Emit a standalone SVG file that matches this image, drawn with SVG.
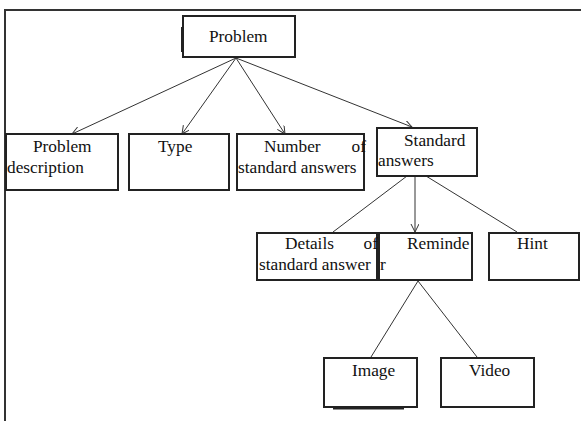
<svg xmlns="http://www.w3.org/2000/svg" width="581" height="421" viewBox="0 0 581 421">
<style>
.box{fill:#fff;stroke:#222;stroke-width:2}
.t{font-family:"Liberation Serif","Times New Roman",serif;font-size:17.3px;fill:#111}
.c{stroke:#333;stroke-width:1;fill:none;marker-end:url(#ah)}
.frame{stroke:#333;stroke-width:2;fill:none}
</style>
<defs>
<marker id="ah" markerUnits="userSpaceOnUse" markerWidth="10" markerHeight="10" refX="8" refY="4" orient="auto">
<path d="M0,0 L8,4 L0,8" fill="none" stroke="#333" stroke-width="1"/>
</marker>
</defs>
<rect width="581" height="421" fill="#fff"/>
<path class="frame" d="M5,421 V10 H581"/>
<g id="connectors">
<line class="c" x1="236" y1="58" x2="72" y2="134"/>
<line class="c" x1="236" y1="58" x2="182" y2="134"/>
<line class="c" x1="236" y1="58" x2="285" y2="134"/>
<line class="c" x1="236" y1="58" x2="412" y2="127"/>
<line class="c" x1="407" y1="176" x2="333" y2="232" style="marker-end:none"/>
<line class="c" x1="415" y1="176" x2="415" y2="232"/>
<line class="c" x1="426" y1="176" x2="517" y2="232" style="marker-end:none"/>
<line class="c" x1="418" y1="281" x2="371" y2="357" style="marker-end:none"/>
<line class="c" x1="418" y1="281" x2="477" y2="357" style="marker-end:none"/>
</g>
<g id="problem">
<rect class="box" x="183" y="16" width="112" height="41"/>
<line x1="182.5" y1="27" x2="182.5" y2="52" stroke="#222" stroke-width="3"/>
<text class="t" x="209" y="42">Problem</text>
</g>
<g id="problem-description">
<rect class="box" x="6" y="134" width="112" height="56"/>
<text class="t" x="33" y="152">Problem</text>
<text class="t" x="7" y="173">description</text>
</g>
<g id="type">
<rect class="box" x="129" y="134" width="100" height="56"/>
<text class="t" x="158" y="152">Type</text>
</g>
<g id="number">
<rect class="box" x="237" y="134" width="127" height="56"/>
<text class="t" x="264" y="152">Number</text>
<text class="t" x="366" y="152" text-anchor="end">of</text>
<text class="t" x="238" y="173">standard answers</text>
</g>
<g id="standard-answers">
<rect class="box" x="377" y="128" width="100" height="48"/>
<text class="t" x="404" y="146">Standard</text>
<text class="t" x="378" y="166">answers</text>
</g>
<g id="details">
<rect class="box" x="257" y="233" width="120" height="47"/>
<text class="t" x="285" y="249">Details</text>
<text class="t" x="378" y="249" text-anchor="end">of</text>
<text class="t" x="259" y="270">standard answer</text>
</g>
<g id="reminder">
<rect class="box" x="379" y="233" width="93" height="47"/>
<text class="t" x="407" y="249">Reminde</text>
<text class="t" x="380" y="270">r</text>
</g>
<g id="hint">
<rect class="box" x="489" y="233" width="90" height="47"/>
<text class="t" x="517" y="249">Hint</text>
</g>
<g id="image">
<rect class="box" x="324" y="358" width="93" height="49"/>
<line x1="333" y1="408" x2="404" y2="408" stroke="#222" stroke-width="3"/>
<text class="t" x="352" y="376">Image</text>
</g>
<g id="video">
<rect class="box" x="441" y="358" width="93" height="49"/>
<text class="t" x="469" y="376">Video</text>
</g>
</svg>
